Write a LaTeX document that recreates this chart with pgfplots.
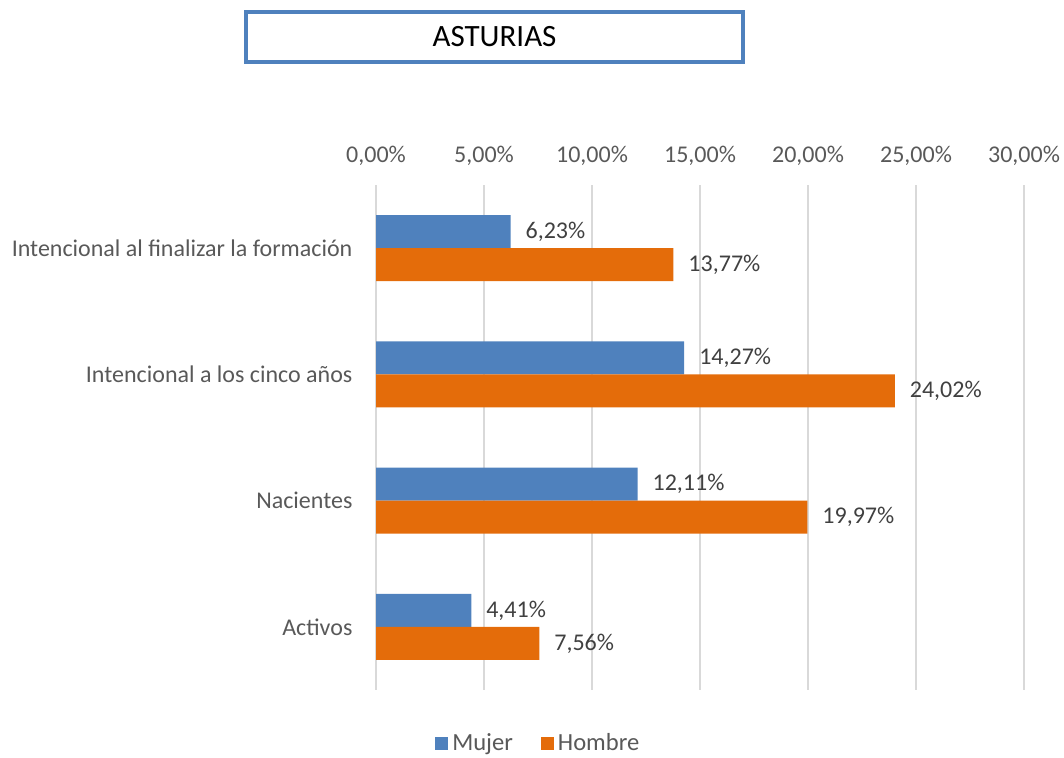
\documentclass[border=0pt]{standalone}
\usepackage{fontspec}
\setmainfont{Carlito}
\usepackage{pgfplots}
\pgfplotsset{compat=1.18}
\definecolor{mblue}{HTML}{4F81BD}
\definecolor{horange}{HTML}{E46C0A}
\definecolor{txt}{HTML}{595959}
\definecolor{lbl}{HTML}{404040}
\definecolor{grd}{HTML}{D9D9D9}
\begin{document}
\begin{tikzpicture}
\path[use as bounding box] (0pt,0pt) rectangle (532pt,379pt);
\draw[mblue, line width=2pt, fill=white] (123pt,348pt) rectangle (371.5pt,373pt);
\node[font=\fontsize{15.5}{18}\selectfont] at (247.25pt,360.5pt) {ASTURIAS};
\begin{axis}[at={(188pt,34pt)}, anchor=south west, scale only axis,
  width=324pt, height=252.5pt,
  xmin=0, xmax=30, ymin=-0.5, ymax=3.5,
  xbar, bar width=16.5pt,
  axis line style={draw=none},
  xtick={0,5,...,30}, ytick={0,1,2,3},
  yticklabels={Activos,Nacientes,Intencional a los cinco años,Intencional al finalizar la formación},
  xticklabel pos=upper, tick style={draw=none},
  xmajorgrids, grid style={grd, line width=1pt},
  xticklabel={\pgfmathprintnumber[fixed,fixed zerofill,precision=2,use comma,assume math mode=true]{\tick}\%},
  ticklabel style={font=\fontsize{12}{14}\selectfont, text=txt},
  xticklabel style={yshift=6pt},
  yticklabel style={xshift=-4pt},
  nodes near coords={\pgfmathprintnumber[fixed,fixed zerofill,precision=2,use comma,assume math mode=true]{\pgfplotspointmeta}\%},
  nodes near coords style={font=\fontsize{12}{14}\selectfont, text=lbl, anchor=west, xshift=4pt},
  legend style={at={(0.252,-0.106)}, anchor=center, draw=none, legend columns=2,
    font=\fontsize{12.3}{14}\selectfont, text=txt, inner sep=1pt,
    /tikz/every even column/.append style={column sep=12pt}},
  legend image code/.code={\fill[#1] (0pt,-3.25pt) rectangle (6.5pt,3.25pt);},
]
\addplot[fill=mblue, draw=none, bar shift=8.25pt] coordinates {(4.41,0) (12.11,1) (14.27,2) (6.23,3)};
\addlegendentry{Mujer}
\addplot[fill=horange, draw=none, bar shift=-8.25pt] coordinates {(7.56,0) (19.97,1) (24.02,2) (13.77,3)};
\addlegendentry{Hombre}
\end{axis}
\end{tikzpicture}
\end{document}
